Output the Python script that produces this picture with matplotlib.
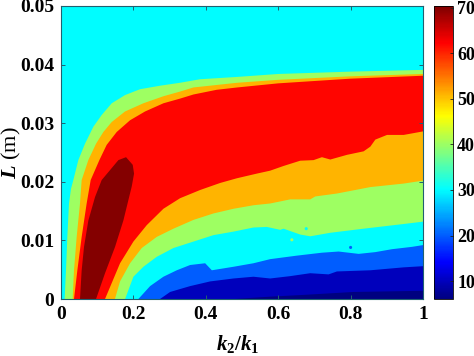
import numpy as np
import matplotlib
matplotlib.use('Agg')
import matplotlib.pyplot as plt
from matplotlib.cm import ScalarMappable
from matplotlib.colors import LinearSegmentedColormap, Normalize

plt.rcParams['font.family'] = ['Liberation Serif', 'DejaVu Serif']
plt.rcParams['font.weight'] = 'bold'
plt.rcParams['mathtext.fontset'] = 'custom'
plt.rcParams['mathtext.rm'] = 'Liberation Serif:bold'
plt.rcParams['mathtext.bf'] = 'Liberation Serif:bold'
plt.rcParams['mathtext.it'] = 'Liberation Serif:italic:bold'
plt.rcParams['mathtext.bfit'] = 'Liberation Serif:italic:bold'

# contour boundaries (k2/k1, L)
top40_k = [.0101, .0138, .0175, .0221, .0276, .0341, .0479, .0663, .0894, .1124, .1401, .1769, .2184, .2737, .329, .384, .487, .6, .8, 1]
top40_L = [0, .0049, .0106, .0163, .0188, .0203, .0237, .0265, .0294, .0314, .0334, .0348, .0358, .0364, .0369, .0375, .0379, .0384, .0388, .0391]
low40_k = [.177, .2, .2276, .2645, .3106, .3659, .4212, .4765, .5317, .5686, .6055, .6147, .6608, .6885, .7439, .836, .9467, 1]
low40_L = [0, .0038, .0055, .0072, .0087, .0098, .0109, .0115, .0122, .0123, .0118, .012, .011, .0107, .0113, .012, .0128, .0132]

top50_k = [.0322, .0359, .0433, .0525, .0571, .0755, .0968, .1171, .1401, .1769, .2276, .283, .329, .366, .487, .6, .8, 1]
top50_L = [0, .0049, .0106, .0163, .0203, .0237, .0265, .0285, .0302, .032, .0334, .0346, .0354, .0361, .0369, .0374, .038, .0384]
low50_k = [.149, .1631, .1908, .223, .2645, .3106, .3659, .4212, .4765, .5317, .5778, .633, .6885, .7023, .7622, .8545, .9467, 1]
low50_L = [0, .003, .0061, .0087, .0106, .012, .0135, .0146, .0154, .016, .0163, .017, .017, .0175, .018, .0191, .0197, .0202]

top60_k = [.0359, .0452, .0571, .0709, .082, .106, .1262, .1539, .1907, .2322, .283, .329, .366, .43, .487, .6, .8, 1]
top60_L = [0, .0049, .0106, .0163, .0203, .0237, .0263, .0285, .0305, .032, .0334, .0342, .0349, .0357, .0361, .0368, .0376, .0381]
low60_k = [.1216, .1631, .2, .2368, .2829, .329, .3843, .4396, .4857, .541, .5778, .6147, .6608, .6977, .7208, .7439, .79, .836, .8545, .8683, .9006, .9467, 1]
low60_L = [0, .0061, .0098, .0126, .0154, .0172, .0186, .0198, .0206, .0214, .0219, .0227, .0236, .0237, .0242, .0238, .0246, .0252, .026, .0272, .028, .028, .0286]

core70_k = [.0525, .0571, .0636, .0756, .094, .1124, .1355, .1585, .1797, .1981, .2018, .1954, .1862, .1723, .1493, .1216, .0968]
core70_L = [0, .0049, .0089, .0134, .0174, .0203, .022, .0237, .0242, .0229, .0214, .0192, .0169, .0134, .0089, .0044, 0]

low30_k = [.2138, .2461, .2829, .3198, .3567, .3982, .4167, .4765, .5317, .5778, .6515, .7208, .7669, .8223, .8683, .9144, .9697, 1]
low30_L = [0, .0022, .0038, .0049, .0058, .0061, .0049, .0055, .0061, .0068, .0074, .0079, .0081, .0077, .008, .0085, .0089, .0092]
low20_k = [.2737, .3014, .3567, .412, .4765, .5317, .5778, .633, .6885, .7392, .7622, .8545, .9467, 1]
low20_L = [0, .0012, .0022, .003, .0035, .0038, .0035, .0039, .0044, .0042, .0047, .0049, .0054, .0056]
low10_k = [.48, .5778, .6698, .8081, 1]
low10_L = [0, .0004, .0007, .0012, .0014]

# single stray points
speck_k = [.6774, .6377, .8]
speck_L = [.012, .0101, .0088]
speck_level = [30, 40, 20]

# colour value of each band
band_levels = [40, 51, 62]
band_low = [20, 10, 6.06]
band_bg = 30
band_core = 70

xticks = [0, .2, .4, .6, .8, 1]
xticklabels = ['0', '0.2', '0.4', '0.6', '0.8', '1']
yticks = [0, .01, .02, .03, .04, .05]
yticklabels = ['0', '0.01', '0.02', '0.03', '0.04', '0.05']
cticks = [10, 20, 30, 40, 50, 60, 70]

norm = Normalize(6.06, 70.4)
# jet as the reference draws it, pure cyan and yellow at the quarter points
cmap = LinearSegmentedColormap.from_list('jet_m', [
    (0, (0, 0, .5)), (.125, (0, 0, 1)), (.375, (0, 1, 1)),
    (.625, (1, 1, 0)), (.875, (1, 0, 0)), (1, (.5, 0, 0))], N=256)

fig = plt.figure(figsize=(4.74, 3.56), dpi=100)
ax = fig.add_axes([61 / 474, 1 - 299 / 356, 362 / 474, 293 / 356])
ax.set_facecolor(cmap(norm(band_bg)))

# nested bands, painted from the outside in
tops = [(top40_k, top40_L), (top50_k, top50_L), (top60_k, top60_L)]
lows = [(low40_k, low40_L), (low50_k, low50_L), (low60_k, low60_L)]
for lev, (tk, tl), (lk, ll) in zip(band_levels, tops, lows):
    ax.fill(tk + lk[::-1], tl + ll[::-1], color=cmap(norm(lev)), lw=0)
ax.fill(core70_k, core70_L, color=cmap(norm(band_core)), lw=0)

for lev, lk, ll in zip(band_low, [low30_k, low20_k, low10_k], [low30_L, low20_L, low10_L]):
    ax.fill(lk + [1], ll + [0], color=cmap(norm(lev)), lw=0)

ax.scatter(speck_k, speck_L, c=speck_level, cmap=cmap, norm=norm, s=5, lw=0, zorder=3)

ax.set_xlim(0, 1)
ax.set_ylim(0, .05)
ax.set_xticks(xticks, xticklabels)
ax.set_yticks(yticks, yticklabels)
ax.tick_params(direction='in', top=True, right=True, length=3, width=.7, labelsize=14, color='#206070', pad=5)
for s in ax.spines.values():
    s.set_linewidth(.8)
    s.set_color('#206070')
ax.set_xlabel(r'$\mathbfit{k}_{\mathbf{2}}/\mathbfit{k}_{\mathbf{1}}$', fontsize=15)
ax.xaxis.set_label_coords(.488, -.115, transform=ax.transAxes)
ax.set_ylabel(r'$\mathbfit{L}$ (m)', fontsize=16)
ax.yaxis.set_label_coords(-.105, .5, transform=ax.transAxes)

cax = fig.add_axes([434 / 474, 1 - 299 / 356, 19 / 474, 293 / 356])
cb = fig.colorbar(ScalarMappable(norm=norm, cmap=cmap), cax=cax, ticks=cticks)
cb.ax.tick_params(direction='in', length=2.5, width=.6, labelsize=13, pad=3, color='#202020')
cb.outline.set_linewidth(.6)

fig.savefig('out.png', dpi=100)
